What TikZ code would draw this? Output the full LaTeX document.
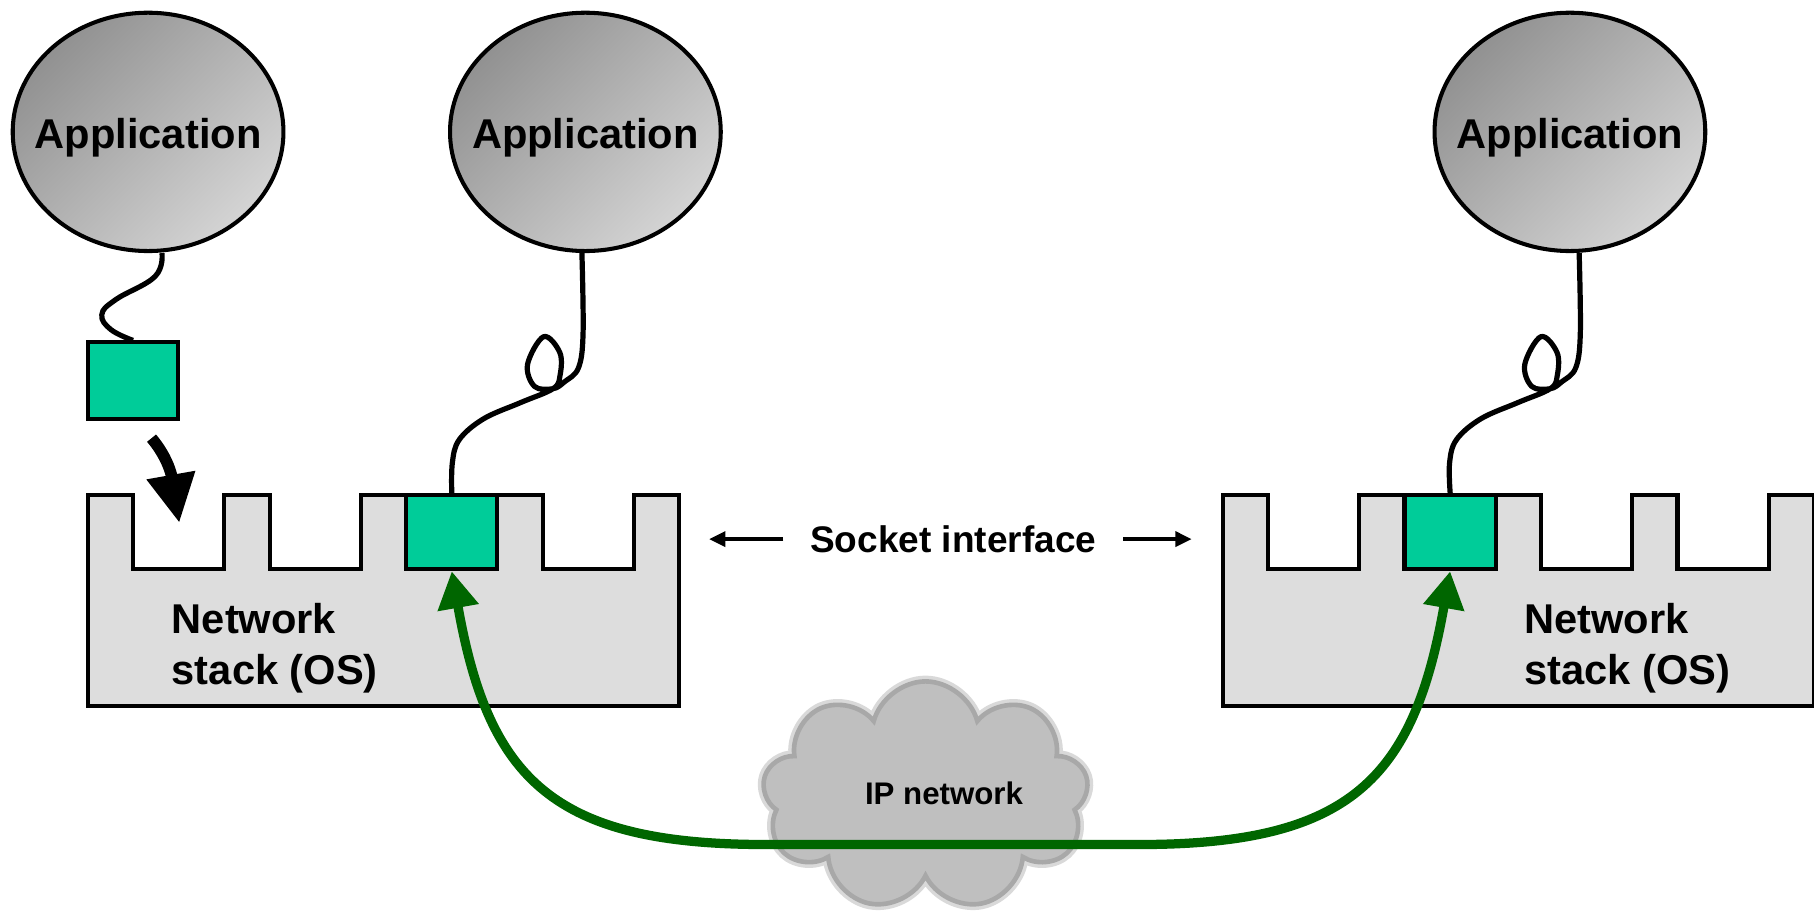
\documentclass[tikz,border=0pt]{standalone}
\usepackage{fontspec}
\setmainfont{Liberation Sans}
\usetikzlibrary{shapes.geometric,shapes.symbols,arrows.meta}
\definecolor{sockgreen}{RGB}{0,204,153}
\definecolor{linkgreen}{RGB}{0,102,0}
\definecolor{stackgray}{RGB}{221,221,221}
\definecolor{appdark}{RGB}{145,145,145}
\definecolor{applight}{RGB}{212,212,212}

\begin{document}
\begin{tikzpicture}[x=1pt,y=1pt,
    app/.style={ellipse,draw,line width=3.5pt,minimum width=234pt,minimum height=206pt,inner sep=0pt,
        top color=appdark,bottom color=applight,shading angle=45,
        font=\fontsize{36}{40}\selectfont\bfseries},
    sockbox/.style={draw,line width=3.5pt,fill=sockgreen,minimum width=79pt,minimum height=64pt,inner sep=0pt},
    stackbox/.style={draw,line width=3.5pt,fill=stackgray},
    stacktext/.style={anchor=west,align=left,font=\fontsize{36}{44}\selectfont\bfseries},
    tether/.style={line width=4.5pt,line join=round},
    link/.style={draw=linkgreen,line width=8pt,{Triangle[width=34pt,length=32pt]}-{Triangle[width=34pt,length=32pt]}},
    drop/.style={line width=10pt,-{Triangle[width=40pt,length=42pt]}},
    ifarrow/.style={line width=3pt,-{Triangle[length=14pt,width=13pt]}},
    ipcloud/.style={cloud,cloud puffs=9,aspect=1.4,minimum width=282pt,minimum height=198pt,
        fill=gray!50,draw=gray!68,line width=4pt,preaction={draw=gray!30,line width=10pt}}]
    \useasboundingbox (0,0) rectangle (1568,795);

    \foreach \x in {76,1057}
        \draw[stackbox] (\x,185) -- (\x,367)
            \foreach \i in {1,...,4} {-- ++(39,0) -- ++(0,-64) -- ++(79,0) -- ++(0,64)}
            -- ++(39,0) -- (\x+511,185) -- cycle;

    \node[sockbox] (m-sock) at (390.5,335) {};
    \node[sockbox] (r-sock) at (1253.5,335) {};
    \node[sockbox,minimum height=66pt,minimum width=78pt] (l-sock) at (115,466) {};

    \node[stacktext] (l-stack) at (145,235) {Network\\stack (OS)};
    \node[stacktext] (r-stack) at (1314,235) {Network\\stack (OS)};

    \node[app] (l-app) at (128,681) {\makebox[0pt]{\raisebox{-14pt}[0pt][0pt]{Application}}};
    \node[app] (m-app) at (506,681) {\makebox[0pt]{\raisebox{-14pt}[0pt][0pt]{Application}}};
    \node[app] (r-app) at (1357,681) {\makebox[0pt]{\raisebox{-14pt}[0pt][0pt]{Application}}};

    \coordinate (l-tie) at ([xshift=12pt]l-app.south);
    \coordinate (m-tie) at ([xshift=-3pt]m-app.south);
    \coordinate (r-tie) at ([xshift=8pt]r-app.south);

    \draw[tether] plot[smooth,tension=0.7] coordinates {(l-tie) (134,556) (100,536) (88,523) (96,510) (l-sock.north)};
    \foreach \s/\dx in {m/0,r/862}
        \draw[tether,xshift=\dx pt] plot[smooth,tension=0.6] coordinates {(\s-tie) (504,507) (500,477) (488,465)
            (478,459) (462,461) (456,480) (470,504) (484,490) (484,470) (478,459) (450,447) (418,433)
            (397,415) (391,395) (\s-sock.north)};

    \coordinate (drop-tip) at (155,343);
    \draw[drop] ([xshift=16pt,yshift=-15pt]l-sock.south) to[out=-50,in=100] (drop-tip);

    \node[font=\fontsize{32}{36}\selectfont\bfseries,inner xsep=23pt] (sockif) at (824,329) {Socket interface};
    \coordinate (if-l) at (613,329);
    \coordinate (if-r) at (1030,329);
    \draw[ifarrow] (sockif.west) -- (if-l);
    \draw[ifarrow] (sockif.east) -- (if-r);

    \node[ipcloud] (ipnet) at (800,107) {};
    \node[font=\fontsize{27}{30}\selectfont\bfseries] (ip-label) at (816,109) {IP network};

    \coordinate (gl) at (662,65);
    \coordinate (gr) at (985,65);
    \draw[link] (m-sock.south) to[out=-80,in=180,looseness=1.3] (gl) -- (gr) to[out=0,in=-100,looseness=1.3] (r-sock.south);
\end{tikzpicture}
\end{document}
